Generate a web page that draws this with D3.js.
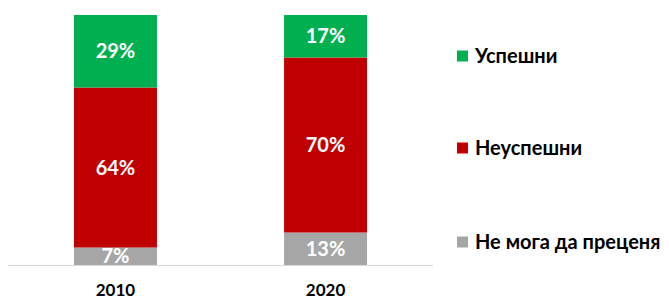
<!DOCTYPE html>
<html>
<head>
<meta charset="utf-8">
<script src="https://cdn.jsdelivr.net/npm/d3@7"></script>
<style>
  body { margin: 0; background: #fff; }
  text { font-family: Lato, "Open Sans", sans-serif; font-weight: bold; }
</style>
</head>
<body>
<svg id="chart" width="669" height="302"></svg>
<script>
// data
var years = ["2010", "2020"];
var series = ["Не мога да преценя", "Неуспешни", "Успешни"];
var unsure = [7, 13];
var failed = [64, 70];
var success = [29, 17];
var colors = ["#a6a6a6", "#c00000", "#00b050"];

var svg = d3.select("#chart");

var rows = years.map(function(y, i) {
  return { year: y, "Не мога да преценя": unsure[i], "Неуспешни": failed[i], "Успешни": success[i] };
});

var stack = d3.stack().keys(series);
var layers = stack(rows);

var x = d3.scaleBand()
  .domain(years)
  .range([8, 433])
  .paddingInner(0.605)
  .paddingOuter(0.314);

var y = d3.scaleLinear()
  .domain([0, 100])
  .range([265, 15]);

var color = d3.scaleOrdinal().domain(series).range(colors);

// bars
var layer = svg.selectAll(".layer")
  .data(layers)
  .enter()
  .append("g")
  .attr("class", "layer")
  .attr("fill", function(d) { return color(d.key); });

layer.selectAll("rect")
  .data(function(d) { return d; })
  .enter()
  .append("rect")
  .attr("x", function(d) { return x(d.data.year); })
  .attr("y", function(d) { return y(d[1]); })
  .attr("width", x.bandwidth())
  .attr("height", function(d) { return y(d[0]) - y(d[1]); });

// value labels
layer.selectAll("text")
  .data(function(d) { return d; })
  .enter()
  .append("text")
  .attr("x", function(d) { return x(d.data.year) + x.bandwidth() / 2; })
  .attr("y", function(d) { return (y(d[0]) + y(d[1])) / 2; })
  .attr("dy", "0.36em")
  .attr("text-anchor", "middle")
  .attr("fill", "#fff")
  .style("font-size", "20px")
  .text(function(d) { return (d[1] - d[0]) + "%"; });

// axis line
svg.append("line")
  .attr("x1", x.range()[0])
  .attr("x2", x.range()[1])
  .attr("y1", y(0) + 0.5)
  .attr("y2", y(0) + 0.5)
  .attr("stroke", "#d9d9d9")
  .attr("stroke-width", 1);

// category labels
svg.selectAll(".year")
  .data(years)
  .enter()
  .append("text")
  .attr("class", "year")
  .attr("x", function(d) { return x(d) + x.bandwidth() / 2; })
  .attr("y", 296)
  .attr("text-anchor", "middle")
  .attr("fill", "#000")
  .style("font-size", "17px")
  .text(function(d) { return d; });

// legend
var legendItems = ["Успешни", "Неуспешни", "Не мога да преценя"];
var legendY = [56, 148, 242];

var legend = svg.selectAll(".legend")
  .data(legendItems)
  .enter()
  .append("g")
  .attr("class", "legend")
  .attr("transform", function(d, i) { return "translate(457," + legendY[i] + ")"; });

legend.append("rect")
  .attr("x", 0)
  .attr("y", -5.5)
  .attr("width", 11)
  .attr("height", 11)
  .attr("fill", function(d) { return color(d); });

legend.append("text")
  .attr("x", 18)
  .attr("y", 0)
  .attr("dy", "0.36em")
  .attr("fill", "#000")
  .style("font-size", "20px")
  .text(function(d) { return d; });
</script>
</body>
</html>
